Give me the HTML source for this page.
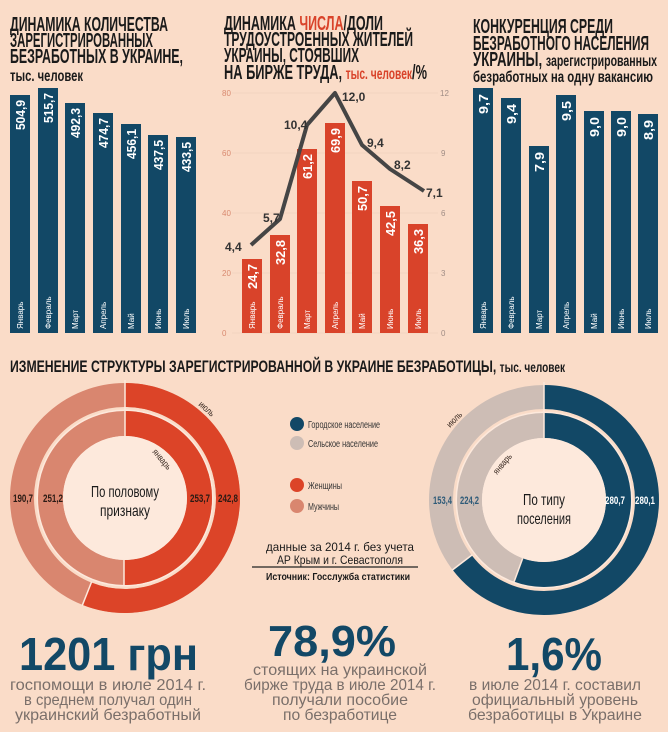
<!DOCTYPE html>
<html><head><meta charset="utf-8"><style>
html,body{margin:0;padding:0;background:#fadcc8;}
svg{display:block;font-family:"Liberation Sans Narrow","Liberation Sans",sans-serif;}
</style></head><body>
<svg width="668" height="732" viewBox="0 0 668 732" xmlns="http://www.w3.org/2000/svg">
<rect width="668" height="732" fill="#fadcc8"/>
<g font-weight="bold" fill="#1a1a1a" font-size="20">
<text x="10" y="31" textLength="158" lengthAdjust="spacingAndGlyphs">ДИНАМИКА КОЛИЧЕСТВА</text>
<text x="10" y="47" textLength="143" lengthAdjust="spacingAndGlyphs">ЗАРЕГИСТРИРОВАННЫХ</text>
<text x="10" y="63" textLength="173" lengthAdjust="spacingAndGlyphs">БЕЗРАБОТНЫХ В УКРАИНЕ,</text>
<text x="10" y="81" font-size="16" textLength="73" lengthAdjust="spacingAndGlyphs">тыс. человек</text>

<text x="224" y="30" textLength="159" lengthAdjust="spacingAndGlyphs">ДИНАМИКА <tspan fill="#d9432a">ЧИСЛА</tspan>/ДОЛИ</text>
<text x="224" y="46" textLength="189" lengthAdjust="spacingAndGlyphs">ТРУДОУСТРОЕННЫХ ЖИТЕЛЕЙ</text>
<text x="224" y="62" textLength="135" lengthAdjust="spacingAndGlyphs">УКРАИНЫ, СТОЯВШИХ</text>
<text x="224" y="79" textLength="203" lengthAdjust="spacingAndGlyphs">НА БИРЖЕ ТРУДА, <tspan fill="#d9432a" font-size="16">тыс. человек</tspan>/%</text>

<text x="473" y="33" textLength="140" lengthAdjust="spacingAndGlyphs">КОНКУРЕНЦИЯ СРЕДИ</text>
<text x="473" y="50" textLength="176" lengthAdjust="spacingAndGlyphs">БЕЗРАБОТНОГО НАСЕЛЕНИЯ</text>
<text x="473" y="66" textLength="184" lengthAdjust="spacingAndGlyphs">УКРАИНЫ, <tspan font-size="16">зарегистрированных</tspan></text>
<text x="473" y="82" font-size="16" textLength="180" lengthAdjust="spacingAndGlyphs">безработных на одну вакансию</text>

<text x="10" y="372" font-size="17" textLength="555" lengthAdjust="spacingAndGlyphs">ИЗМЕНЕНИЕ СТРУКТУРЫ ЗАРЕГИСТРИРОВАННОЙ В УКРАИНЕ БЕЗРАБОТИЦЫ, <tspan font-size="14">тыс. человек</tspan></text>
</g>

<g fill="#124866">
<rect x="10" y="95" width="20" height="238"/>
<rect x="38" y="88" width="20" height="245"/>
<rect x="65" y="103" width="20" height="230"/>
<rect x="93" y="113" width="20" height="220"/>
<rect x="121" y="124" width="20" height="209"/>
<rect x="148" y="135" width="20" height="198"/>
<rect x="176" y="137" width="20" height="196"/>
</g>
<g fill="#fff" font-weight="bold" font-size="13">
<text transform="translate(25,130) rotate(-90)" textLength="30" lengthAdjust="spacingAndGlyphs">504,9</text>
<text transform="translate(53,123) rotate(-90)" textLength="30" lengthAdjust="spacingAndGlyphs">515,7</text>
<text transform="translate(80,138) rotate(-90)" textLength="30" lengthAdjust="spacingAndGlyphs">492,3</text>
<text transform="translate(108,148) rotate(-90)" textLength="30" lengthAdjust="spacingAndGlyphs">474,7</text>
<text transform="translate(136,159) rotate(-90)" textLength="30" lengthAdjust="spacingAndGlyphs">456,1</text>
<text transform="translate(163,170) rotate(-90)" textLength="30" lengthAdjust="spacingAndGlyphs">437,5</text>
<text transform="translate(191,172) rotate(-90)" textLength="30" lengthAdjust="spacingAndGlyphs">433,5</text>
</g>
<g fill="#fff" font-size="8">
<text transform="translate(23,329) rotate(-90)">Январь</text>
<text transform="translate(51,329) rotate(-90)">Февраль</text>
<text transform="translate(78,329) rotate(-90)">Март</text>
<text transform="translate(106,329) rotate(-90)">Апрель</text>
<text transform="translate(134,329) rotate(-90)">Май</text>
<text transform="translate(161,329) rotate(-90)">Июнь</text>
<text transform="translate(189,329) rotate(-90)">Июль</text>
</g>

<g stroke="#ecc9b5" stroke-width="0.6">
<line x1="232" y1="93" x2="438" y2="93"/><line x1="232" y1="153" x2="438" y2="153"/>
<line x1="232" y1="213" x2="438" y2="213"/><line x1="232" y1="273" x2="438" y2="273"/>
<line x1="232" y1="333" x2="438" y2="333"/>
</g>
<g font-size="8" fill="#d98a70">
<text x="222" y="96">80</text><text x="222" y="156">60</text><text x="222" y="216">40</text><text x="222" y="276">20</text><text x="222" y="336">0</text>
</g>
<g font-size="8" fill="#a08d85">
<text x="440" y="96">12</text><text x="441" y="156">9</text><text x="441" y="216">6</text><text x="441" y="276">3</text><text x="441" y="336">0</text>
</g>
<g fill="#d9432a">
<rect x="242" y="259" width="20" height="74"/>
<rect x="270" y="235" width="20" height="98"/>
<rect x="297" y="149" width="20" height="184"/>
<rect x="325" y="123" width="20" height="210"/>
<rect x="352" y="181" width="20" height="152"/>
<rect x="380" y="206" width="20" height="127"/>
<rect x="408" y="224" width="20" height="109"/>
</g>
<g fill="#fff" font-weight="bold" font-size="13">
<text transform="translate(257,289) rotate(-90)" textLength="25" lengthAdjust="spacingAndGlyphs">24,7</text>
<text transform="translate(285,265) rotate(-90)" textLength="25" lengthAdjust="spacingAndGlyphs">32,8</text>
<text transform="translate(312,179) rotate(-90)" textLength="25" lengthAdjust="spacingAndGlyphs">61,2</text>
<text transform="translate(340,153) rotate(-90)" textLength="25" lengthAdjust="spacingAndGlyphs">69,9</text>
<text transform="translate(367,211) rotate(-90)" textLength="25" lengthAdjust="spacingAndGlyphs">50,7</text>
<text transform="translate(395,236) rotate(-90)" textLength="25" lengthAdjust="spacingAndGlyphs">42,5</text>
<text transform="translate(423,254) rotate(-90)" textLength="25" lengthAdjust="spacingAndGlyphs">36,3</text>
</g>
<g fill="#fff" font-size="8">
<text transform="translate(255,329) rotate(-90)">Январь</text>
<text transform="translate(283,329) rotate(-90)">Февраль</text>
<text transform="translate(310,329) rotate(-90)">Март</text>
<text transform="translate(338,329) rotate(-90)">Апрель</text>
<text transform="translate(365,329) rotate(-90)">Май</text>
<text transform="translate(393,329) rotate(-90)">Июнь</text>
<text transform="translate(421,329) rotate(-90)">Июль</text>
</g>
<polyline points="251,245 280,219 307,125 335,93 362,145 390,169 424,191" fill="none" stroke="#454545" stroke-width="4" stroke-linejoin="round"/>
<g font-weight="bold" font-size="12" fill="#333">
<text x="225" y="251">4,4</text>
<text x="263" y="222">5,7</text>
<text x="284" y="129">10,4</text>
<text x="342" y="101">12,0</text>
<text x="367" y="147">9,4</text>
<text x="394" y="169">8,2</text>
<text x="426" y="197">7,1</text>
</g>

<g fill="#124866">
<rect x="473" y="88" width="20" height="245"/>
<rect x="501" y="98" width="20" height="235"/>
<rect x="529" y="146" width="20" height="187"/>
<rect x="556" y="95" width="20" height="238"/>
<rect x="584" y="111" width="20" height="222"/>
<rect x="611" y="111" width="20" height="222"/>
<rect x="638" y="114" width="20" height="219"/>
</g>
<g fill="#fff" font-weight="bold" font-size="13">
<text transform="translate(488,114) rotate(-90)" textLength="20" lengthAdjust="spacingAndGlyphs">9,7</text>
<text transform="translate(516,124) rotate(-90)" textLength="20" lengthAdjust="spacingAndGlyphs">9,4</text>
<text transform="translate(544,172) rotate(-90)" textLength="20" lengthAdjust="spacingAndGlyphs">7,9</text>
<text transform="translate(571,121) rotate(-90)" textLength="20" lengthAdjust="spacingAndGlyphs">9,5</text>
<text transform="translate(599,137) rotate(-90)" textLength="20" lengthAdjust="spacingAndGlyphs">9,0</text>
<text transform="translate(626,137) rotate(-90)" textLength="20" lengthAdjust="spacingAndGlyphs">9,0</text>
<text transform="translate(653,140) rotate(-90)" textLength="20" lengthAdjust="spacingAndGlyphs">8,9</text>
</g>
<g fill="#fff" font-size="8">
<text transform="translate(486,329) rotate(-90)">Январь</text>
<text transform="translate(514,329) rotate(-90)">Февраль</text>
<text transform="translate(542,329) rotate(-90)">Март</text>
<text transform="translate(569,329) rotate(-90)">Апрель</text>
<text transform="translate(597,329) rotate(-90)">Май</text>
<text transform="translate(624,329) rotate(-90)">Июнь</text>
<text transform="translate(651,329) rotate(-90)">Июль</text>
</g>

<!-- LEFT DONUT -->
<circle cx="125" cy="498" r="88.5" fill="#fde9dc"/>
<circle cx="125" cy="498" r="103" fill="none" stroke="#d9866f" stroke-width="24"/>
<circle cx="125" cy="498" r="103" fill="none" stroke="#dc4428" stroke-width="24" stroke-dasharray="362.5 1000" transform="rotate(-90 125 498)"/>
<circle cx="125" cy="498" r="74.5" fill="none" stroke="#d9866f" stroke-width="25"/>
<circle cx="125" cy="498" r="74.5" fill="none" stroke="#dc4428" stroke-width="25" stroke-dasharray="235.2 1000" transform="rotate(-90 125 498)"/>
<circle cx="125" cy="498" r="62" fill="#fde9dc"/>
<g stroke="#fde9dc" stroke-width="1.5">
<line x1="125" y1="380" x2="125" y2="436"/>
<line x1="124" y1="560" x2="124" y2="586"/>
<line x1="91.7" y1="581.6" x2="82.1" y2="605.8"/>
</g>
<g font-weight="bold" font-size="11" fill="#2a1a14">
<text x="13" y="502" textLength="20" lengthAdjust="spacingAndGlyphs">190,7</text>
<text x="43" y="502" textLength="20" lengthAdjust="spacingAndGlyphs">251,2</text>
<text x="190" y="502" textLength="20" lengthAdjust="spacingAndGlyphs">253,7</text>
<text x="218" y="502" textLength="20" lengthAdjust="spacingAndGlyphs">242,8</text>
</g>
<text font-size="9" fill="#3a2a22" transform="translate(198,405) rotate(42)" textLength="18" lengthAdjust="spacingAndGlyphs">июль</text>
<text font-size="9" fill="#3a2a22" transform="translate(152,452) rotate(50)" textLength="24" lengthAdjust="spacingAndGlyphs">январь</text>
<g font-size="16" fill="#1a1a1a" text-anchor="middle">
<text x="125" y="497" textLength="68" lengthAdjust="spacingAndGlyphs">По половому</text>
<text x="125" y="516" textLength="50" lengthAdjust="spacingAndGlyphs">признаку</text>
</g>

<!-- RIGHT DONUT -->
<circle cx="544" cy="500" r="88.5" fill="#fde9dc"/>
<circle cx="544" cy="500" r="103" fill="none" stroke="#cdbdb5" stroke-width="24"/>
<circle cx="544" cy="500" r="103" fill="none" stroke="#124866" stroke-width="24" stroke-dasharray="418.2 1000" transform="rotate(-90 544 500)"/>
<circle cx="544" cy="500" r="74.5" fill="none" stroke="#cdbdb5" stroke-width="25"/>
<circle cx="544" cy="500" r="74.5" fill="none" stroke="#124866" stroke-width="25" stroke-dasharray="260.2 1000" transform="rotate(-90 544 500)"/>
<circle cx="544" cy="500" r="62" fill="#fde9dc"/>
<g stroke="#fde9dc" stroke-width="1.5">
<line x1="544" y1="382" x2="544" y2="438"/>
<line x1="522.7" y1="558.2" x2="514.1" y2="581.7"/>
<line x1="472.5" y1="554.6" x2="451.9" y2="570.4"/>
</g>
<g font-weight="bold" font-size="11">
<text x="433" y="504" fill="#2d5a78" textLength="19" lengthAdjust="spacingAndGlyphs">153,4</text>
<text x="460" y="504" fill="#2d5a78" textLength="19" lengthAdjust="spacingAndGlyphs">224,2</text>
<text x="605" y="504" fill="#fff" textLength="20" lengthAdjust="spacingAndGlyphs">280,7</text>
<text x="635" y="504" fill="#fff" textLength="20" lengthAdjust="spacingAndGlyphs">280,1</text>
</g>
<text font-size="9" fill="#3a2a22" transform="translate(450,428) rotate(-45)" textLength="18" lengthAdjust="spacingAndGlyphs">июль</text>
<text font-size="9" fill="#3a2a22" transform="translate(497,475) rotate(-50)" textLength="24" lengthAdjust="spacingAndGlyphs">январь</text>
<g font-size="16" fill="#1a1a1a" text-anchor="middle">
<text x="544" y="505" textLength="42" lengthAdjust="spacingAndGlyphs">По типу</text>
<text x="544" y="524" textLength="54" lengthAdjust="spacingAndGlyphs">поселения</text>
</g>

<circle cx="297" cy="424" r="7" fill="#124866"/>
<circle cx="297" cy="443" r="7" fill="#cdbdb5"/>
<circle cx="297" cy="485" r="7" fill="#dc4428"/>
<circle cx="297" cy="506" r="7" fill="#d9866f"/>
<g font-size="10" fill="#333">
<text x="308" y="428" textLength="72" lengthAdjust="spacingAndGlyphs">Городское население</text>
<text x="308" y="447" textLength="70" lengthAdjust="spacingAndGlyphs">Сельское население</text>
<text x="308" y="489" textLength="34" lengthAdjust="spacingAndGlyphs">Женщины</text>
<text x="308" y="510" textLength="31" lengthAdjust="spacingAndGlyphs">Мужчины</text>
</g>
<g font-size="12" fill="#1a1a1a" text-anchor="middle" font-family="Liberation Sans, sans-serif">
<text x="340" y="551" textLength="148" lengthAdjust="spacingAndGlyphs">данные за 2014 г. без учета</text>
<text x="340" y="564" textLength="126" lengthAdjust="spacingAndGlyphs">АР Крым и г. Севастополя</text>
</g>
<line x1="252" y1="567" x2="418" y2="567" stroke="#222" stroke-width="1.2"/>
<text x="338" y="580" font-size="10" font-weight="bold" fill="#1a1a1a" text-anchor="middle" font-family="Liberation Sans, sans-serif" textLength="144" lengthAdjust="spacingAndGlyphs">Источник: Госслужба статистики</text>

<g fill="#124866" font-weight="bold" font-family="Liberation Sans, sans-serif">
<text x="19" y="670" font-size="46" textLength="179" lengthAdjust="spacingAndGlyphs">1201 грн</text>
<text x="268" y="656" font-size="44" textLength="128" lengthAdjust="spacingAndGlyphs">78,9%</text>
<text x="506" y="670" font-size="46" textLength="96" lengthAdjust="spacingAndGlyphs">1,6%</text>
</g>
<g fill="#7a6f6a" font-size="16" text-anchor="middle">
<text x="108" y="690" textLength="196" lengthAdjust="spacingAndGlyphs">госпомощи в июле 2014 г.</text>
<text x="108" y="705" textLength="168" lengthAdjust="spacingAndGlyphs">в среднем получал один</text>
<text x="108" y="720" textLength="186" lengthAdjust="spacingAndGlyphs">украинский безработный</text>
<text x="340" y="675" textLength="174" lengthAdjust="spacingAndGlyphs">стоящих на украинской</text>
<text x="340" y="690" textLength="192" lengthAdjust="spacingAndGlyphs">бирже труда в июле 2014 г.</text>
<text x="340" y="705" textLength="136" lengthAdjust="spacingAndGlyphs">получали пособие</text>
<text x="340" y="720" textLength="114" lengthAdjust="spacingAndGlyphs">по безработице</text>
<text x="555" y="690" textLength="172" lengthAdjust="spacingAndGlyphs">в июле 2014 г. составил</text>
<text x="555" y="705" textLength="166" lengthAdjust="spacingAndGlyphs">официальный уровень</text>
<text x="555" y="720" textLength="174" lengthAdjust="spacingAndGlyphs">безработицы в Украине</text>
</g>
</svg>
</body></html>
